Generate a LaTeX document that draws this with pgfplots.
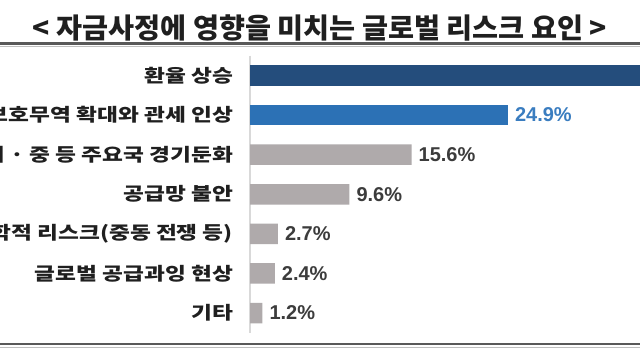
\documentclass[border=0pt]{standalone}
\usepackage{pgfplots}
\pgfplotsset{compat=1.18}
\usepackage{fontspec}
\setmainfont{Liberation Sans}
\newfontfamily\kr[FakeStretch=1.26]{Noto Sans CJK KR}
\newfontfamily\krt[FakeStretch=1.01]{Noto Sans CJK KR}
\definecolor{navy}{HTML}{244D7C}
\definecolor{midblue}{HTML}{2C71B5}
\definecolor{bargray}{HTML}{AFAAAB}
\definecolor{valgray}{HTML}{3C3C3C}
\definecolor{valblue}{HTML}{3A7DC0}
\begin{document}
\begin{tikzpicture}
\path[use as bounding box, clip] (0,0) rectangle (320pt,180pt);
\fill[white] (0,0) rectangle (320pt,180pt);
\node[font=\krt\bfseries\fontsize{14}{16}\selectfont, text=black!88] at (160pt,166pt) {< 자금사정에 영향을 미치는 글로벌 리스크 요인 >};
\draw[line width=1.1pt, black!65] (0,158.3pt) -- (320pt,158.3pt);
\draw[line width=0.6pt, black!25] (0,156.7pt) -- (320pt,156.7pt);
\draw[line width=1.1pt, black!65] (0,8pt) -- (320pt,8pt);
\draw[line width=0.6pt, black!25] (0,6.4pt) -- (320pt,6.4pt);
\begin{axis}[
  at={(125pt,13.6pt)}, anchor=south west,
  scale only axis, width=259pt, height=138.55pt,
  xmin=0, xmax=50, ymin=-0.5, ymax=6.5,
  y dir=reverse,
  xbar, bar width=10.25pt, bar shift=0pt,
  axis x line=none,
  axis y line=left,
  y axis line style={-, draw=black!15, line width=0.6pt},
  xtick=\empty,
  ytick={0,1,2,3,4,5,6},
  yticklabels={환율 상승, 보호무역 확대와 관세 인상, 미 · 중 등 주요국 경기둔화, 공급망 불안, 지정학적 리스크(중동 전쟁 등), 글로벌 공급과잉 현상, 기타},
  yticklabel style={font=\kr\bfseries\fontsize{9}{11}\selectfont, text=black!88, anchor=east, xshift=-5pt},
  major tick length=0pt,
  point meta=x,
  nodes near coords={\pgfmathprintnumber[fixed, precision=1, fixed zerofill, assume math mode=true]{\pgfplotspointmeta}\%},
  nodes near coords style={font=\bfseries\fontsize{10}{12}\selectfont, anchor=west, xshift=0pt},
  clip=false,
]
\addplot[fill=navy, draw=none, nodes near coords style={text=valgray}] coordinates {(43.6,0)};
\addplot[fill=midblue, draw=none, nodes near coords style={text=valblue}] coordinates {(24.9,1)};
\addplot[fill=bargray, draw=none, nodes near coords style={text=valgray}] coordinates {(15.6,2) (9.6,3) (2.7,4) (2.4,5) (1.2,6)};
\end{axis}
\end{tikzpicture}
\end{document}
